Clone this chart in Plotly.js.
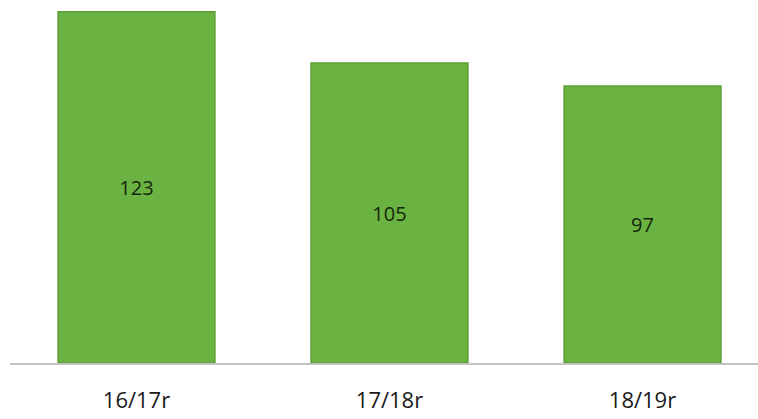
<!DOCTYPE html>
<html><head><meta charset="utf-8">
<script src="https://cdn.plot.ly/plotly-3.0.1.min.js"></script>
<style>html,body{margin:0;padding:0;background:#fff}#c{width:758px;height:419px}</style>
</head><body><div id="c"></div>
<script>
const categories = ["16/17r", "17/18r", "18/19r"];
const values = [123, 105, 97];
const labels = ["123", "105", "97"];

Plotly.newPlot('c', [{
  type: 'bar',
  x: categories,
  y: values,
  text: labels,
  textposition: 'inside',
  insidetextanchor: 'middle',
  textangle: 0,
  textfont: {family: 'Open Sans, Liberation Sans, sans-serif', size: 20, color: '#14260c'},
  marker: {color: '#6ab343', line: {color: '#5e9e38', width: 1.5}},
  hoverinfo: 'none'
}], {
  width: 758, height: 419,
  margin: {l: 10, r: 0, t: 0, b: 56},
  bargap: 0.38,
  paper_bgcolor: '#fff', plot_bgcolor: '#fff',
  showlegend: false,
  xaxis: {
    type: 'category',
    range: [-0.5, 2.4565],
    showline: true, linecolor: '#c3c3c3', linewidth: 2,
    showgrid: false, zeroline: false,
    ticks: '', ticklabelstandoff: 17,
    tickfont: {family: 'Open Sans, Liberation Sans, sans-serif', size: 22, color: '#1a1a1a'}
  },
  yaxis: {
    range: [0, 127.1],
    visible: false, showgrid: false, zeroline: false
  }
}, {displayModeBar: false, staticPlot: true});
</script>
</body></html>
